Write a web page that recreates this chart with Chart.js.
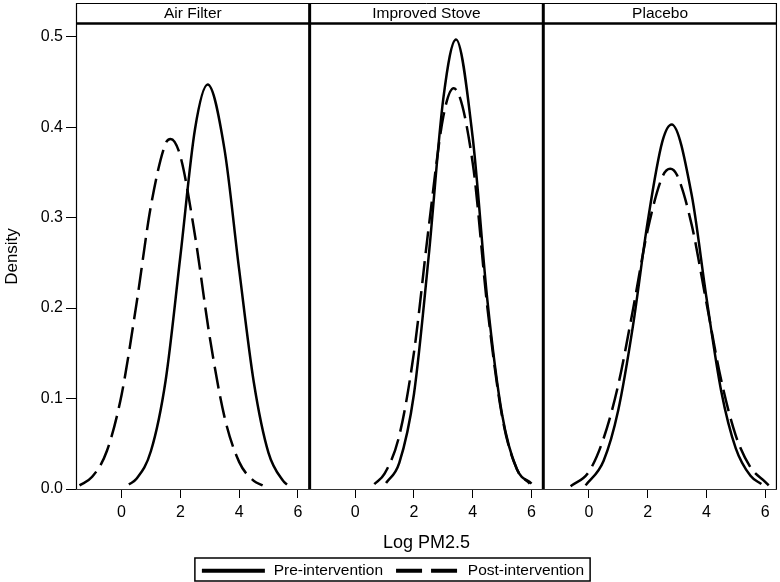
<!DOCTYPE html>
<html>
<head>
<meta charset="utf-8">
<script src="https://cdn.jsdelivr.net/npm/chart.js@4"></script>
<style>
  body { margin: 0; background: #fff; }
  canvas { display: block; }
</style>
</head>
<body>
<canvas id="density" width="780" height="582"></canvas>
<script>
const panels = ["Air Filter", "Improved Stove", "Placebo"];
const seriesNames = ["Pre-intervention", "Post-intervention"];
const xTicks = [0, 2, 4, 6];
const yTicks = [0, 0.1, 0.2, 0.3, 0.4, 0.5];

// values (log PM2.5, density)
const airPreX = [0.25, 0.5, 1, 1.5, 2, 2.5, 2.93, 3.5, 4, 4.5, 5, 5.5, 5.63];
const airPreY = [0.005, 0.011, 0.042, 0.12, 0.257, 0.398, 0.447, 0.376, 0.243, 0.118, 0.04, 0.009, 0.005];
const airPostX = [-1.43, -1, -0.5, 0, 0.5, 1, 1.5, 1.67, 2, 2.5, 3, 3.5, 4, 4.5, 4.8];
const airPostY = [0.004, 0.0135, 0.042, 0.104, 0.203, 0.313, 0.382, 0.387, 0.368, 0.28, 0.168, 0.08, 0.03, 0.009, 0.004];

const stovePreX = [1.05, 1.5, 2, 2.5, 3, 3.43, 4, 4.5, 5, 5.5, 6];
const stovePreY = [0.0066, 0.029, 0.105, 0.257, 0.432, 0.497, 0.388, 0.208, 0.082, 0.022, 0.006];
const stovePostX = [0.65, 1, 1.5, 2, 2.5, 3, 3.35, 4, 4.5, 5, 5.5, 5.94];
const stovePostY = [0.0055, 0.017, 0.059, 0.151, 0.289, 0.412, 0.443, 0.36, 0.2, 0.08, 0.022, 0.006];

const placeboPreX = [-0.11, 0.5, 1, 1.5, 2, 2.5, 2.82, 3.5, 4, 4.5, 5, 5.5, 5.87];
const placeboPreY = [0.004, 0.031, 0.087, 0.18, 0.295, 0.384, 0.403, 0.325, 0.212, 0.109, 0.045, 0.0146, 0.0055];
const placeboPostX = [-0.62, 0, 0.5, 1, 1.5, 2, 2.5, 2.77, 3, 3.5, 4, 4.5, 5, 5.5, 6, 6.12];
const placeboPostY = [0.003, 0.019, 0.0557, 0.115, 0.198, 0.286, 0.345, 0.354, 0.347, 0.292, 0.206, 0.121, 0.059, 0.024, 0.008, 0.004];

const FONT = "'Liberation Sans', Arial, sans-serif";
Chart.defaults.font.family = FONT;
Chart.defaults.color = "#000";

function toPts(xs, ys) {
    return xs.map((x, i) => ({x: x, y: ys[i]}));
}

const curves = [
    [toPts(airPreX, airPreY), toPts(airPostX, airPostY)],
    [toPts(stovePreX, stovePreY), toPts(stovePostX, stovePostY)],
    [toPts(placeboPreX, placeboPreY), toPts(placeboPostX, placeboPostY)]
];

let datasets = [];
curves.forEach((pair, p) => {
    pair.forEach((pts, s) => {
        datasets.push({
            label: seriesNames[s],
            data: pts,
            xAxisID: "x" + p,
            yAxisID: "y",
            borderColor: "#000",
            backgroundColor: "#000",
            borderWidth: 2.5,
            borderDash: s == 1 ? [22, 8] : [],
            pointRadius: 0,
            cubicInterpolationMode: "monotone",
            fill: false
        });
    });
});

function xScale(p) {
    return {
        type: "linear",
        position: "bottom",
        stack: "panels",
        min: -1.55,
        max: 6.4,
        afterBuildTicks: (sc) => { sc.ticks = xTicks.map(v => ({value: v})); },
        afterFit: (sc) => { sc.height = 68; },
        grid: { drawOnChartArea: false, drawTicks: true, tickLength: 9, color: "#000", lineWidth: 1 },
        border: { display: true, color: "#333", width: 1 },
        ticks: { font: { size: 16 }, padding: 5, maxRotation: 0 },
        title: { display: p == 1, text: "Log PM2.5", font: { size: 18 }, padding: 3 }
    };
}

const framePlugin = {
    id: "frame",
    afterDraw(chart) {
        const ctx = chart.ctx;
        const a = chart.chartArea;
        const top = 3;
        ctx.save();
        ctx.strokeStyle = "#000";
        // header strip
        ctx.lineWidth = 1;
        ctx.beginPath();
        ctx.moveTo(a.left, top + 0.5); ctx.lineTo(a.right, top + 0.5);
        ctx.stroke();
        ctx.lineWidth = 2.5;
        ctx.beginPath();
        ctx.moveTo(a.left, a.top - 0.5); ctx.lineTo(a.right, a.top - 0.5);
        ctx.stroke();
        // outer sides
        ctx.lineWidth = 1.2;
        ctx.beginPath();
        ctx.moveTo(a.left + 0.5, top); ctx.lineTo(a.left + 0.5, a.bottom);
        ctx.moveTo(a.right - 0.5, top); ctx.lineTo(a.right - 0.5, a.bottom);
        ctx.stroke();
        // panel separators and strip labels
        ctx.font = "15.5px " + FONT;
        ctx.fillStyle = "#000";
        ctx.textAlign = "center";
        ctx.textBaseline = "middle";
        panels.forEach((name, p) => {
            const sc = chart.scales["x" + p];
            if (p > 0) {
                ctx.lineWidth = 3;
                ctx.beginPath();
                ctx.moveTo(sc.left, top); ctx.lineTo(sc.left, a.bottom);
                ctx.stroke();
            }
            ctx.fillText(name, (sc.left + sc.right) / 2, (top + a.top) / 2 + 0.5);
        });
        // legend line samples and the box round the legend
        const hb = chart.legend.legendHitBoxes;
        if (hb && hb.length) {
            ctx.lineWidth = 4;
            hb.forEach((h, i) => {
                const y = h.top + h.height / 2;
                ctx.setLineDash(i == 1 ? [26, 9] : []);
                ctx.beginPath();
                ctx.moveTo(h.left + 7, y); ctx.lineTo(h.left + 70, y);
                ctx.stroke();
            });
            ctx.setLineDash([]);
            const l = Math.min(...hb.map(h => h.left));
            const r = Math.max(...hb.map(h => h.left + h.width)) + 6;
            const lt = chart.legend.top + 1, lb = chart.legend.bottom - 1;
            ctx.lineWidth = 1.5;
            ctx.strokeRect(l, lt, r - l, lb - lt);
        }
        ctx.restore();
    }
};

new Chart(document.getElementById("density"), {
    type: "line",
    data: { datasets: datasets },
    options: {
        responsive: false,
        animation: false,
        devicePixelRatio: 1,
        layout: { padding: { top: 24, right: 1, left: 0, bottom: 0 } },
        scales: {
            x0: xScale(0),
            x1: xScale(1),
            x2: xScale(2),
            y: {
                type: "linear",
                position: "left",
                min: 0,
                max: 0.514,
                afterBuildTicks: (sc) => { sc.ticks = yTicks.map(v => ({value: v})); },
                afterFit: (sc) => { sc.width = 76; },
                grid: { drawOnChartArea: false, drawTicks: true, tickLength: 10, color: "#000", lineWidth: 1 },
                border: { display: true, color: "#333", width: 1 },
                ticks: { font: { size: 16 }, padding: 3, callback: (v) => Number(v).toFixed(1) },
                title: { display: true, text: "Density", font: { size: 17 }, padding: 2 }
            }
        },
        plugins: {
            tooltip: { enabled: false },
            legend: {
                position: "bottom",
                maxHeight: 25,
                labels: {
                    font: { size: 15.5 },
                    usePointStyle: true,
                    pointStyle: "line",
                    pointStyleWidth: 71,
                    padding: 6,
                    generateLabels: (chart) => {
                        const items = Chart.defaults.plugins.legend.labels.generateLabels(chart);
                        return items.filter(it => it.datasetIndex < 2).map(it => Object.assign(it, {lineWidth: 0}));
                    }
                }
            }
        }
    },
    plugins: [framePlugin]
});
</script>
</body>
</html>
